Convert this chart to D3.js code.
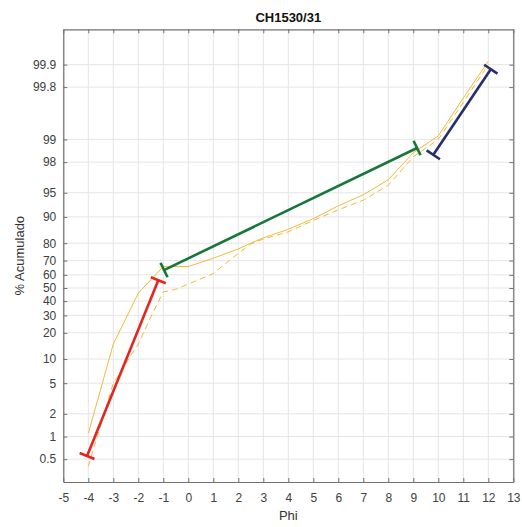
<!DOCTYPE html>
<html>
<head>
<meta charset="utf-8">
<script src="https://cdn.jsdelivr.net/npm/d3@7"></script>
<style>
    body { margin: 0; background: #fff; }
    svg text { font-family: "Liberation Sans", Arial, sans-serif; }
</style>
</head>
<body>
<div id="canvas"></div>
<script>
//Data
var xTicks = [-5, -4, -3, -2, -1, 0, 1, 2, 3, 4, 5, 6, 7, 8, 9, 10, 11, 12, 13];
var yTicks = [0.5, 1, 2, 5, 10, 20, 30, 40, 50, 60, 70, 80, 90, 95, 98, 99, 99.8, 99.9];

var phiSolid = [-4, -3, -2, -1, 0, 1, 2, 2.5, 3, 4, 5, 6, 7, 8, 9, 10, 11, 12];
var pctSolid = [1.1, 15, 46, 66, 66, 71.5, 77, 80, 82.5, 86, 89.5, 92.7, 94.7, 96.6, 98.5, 99.1, 99.72, 99.91];

var phiDashed = [-4, -3, -2, -1.5, -1, -0.5, 0, 1, 2, 2.5, 3, 4, 5, 6, 7, 8, 9, 10, 11, 12];
var pctDashed = [0.4, 5, 15, 29, 47, 49, 53, 61, 74.5, 79.5, 82, 85, 89, 91.8, 93.8, 96, 98.3, 99.0, 99.68, 99.9];

//fitted segments: [phi start, % start, phi end, % end]
var segRed = [-4.05, 0.55, -1.2, 56];
var segGreen = [-0.97, 63.5, 9.15, 98.7];
var segBlue = [9.8, 98.4, 12.1, 99.885];

var width = 522, height = 527;
var mLeft = 63.3, mRight = 513.3, mTop = 29.3, mBottom = 482;

function logit(p) {
    var f = p / 100;
    return Math.log(f / (1 - f));
}

var x = d3.scaleLinear().domain([-5, 13]).range([mLeft, mRight]);
//probability axis: linear in logit
var y = d3.scaleLinear().domain([-6, 8]).range([mBottom, mTop]);

var svg = d3.select("#canvas").append("svg")
    .attr("width", width)
    .attr("height", height);

//grid
var grid = svg.append("g");
grid.selectAll("line.gx")
    .data(xTicks)
    .enter()
    .append("line")
    .attr("x1", function (d) { return x(d); })
    .attr("x2", function (d) { return x(d); })
    .attr("y1", mTop)
    .attr("y2", mBottom)
    .style("stroke", "#e5e5e5");
grid.selectAll("line.gy")
    .data(yTicks)
    .enter()
    .append("line")
    .attr("x1", mLeft)
    .attr("x2", mRight)
    .attr("y1", function (d) { return y(logit(d)); })
    .attr("y2", function (d) { return y(logit(d)); })
    .style("stroke", "#e5e5e5");

//orange curves
var line = d3.line()
    .x(function (d) { return x(d[0]); })
    .y(function (d) { return y(logit(d[1])); });

svg.append("path")
    .datum(d3.zip(phiSolid, pctSolid))
    .attr("d", line)
    .style("fill", "none")
    .style("stroke", "#F2BA3C")
    .style("stroke-width", 1);

svg.append("path")
    .datum(d3.zip(phiDashed, pctDashed))
    .attr("d", line)
    .style("fill", "none")
    .style("stroke", "#F2BA3C")
    .style("stroke-width", 1)
    .style("stroke-dasharray", "6, 4");

//segments with end caps
function drawSegment(s, color) {
    var x1 = x(s[0]), y1 = y(logit(s[1])), x2 = x(s[2]), y2 = y(logit(s[3]));
    var dx = x2 - x1, dy = y2 - y1, len = Math.sqrt(dx * dx + dy * dy);
    var nx = -dy / len * 8, ny = dx / len * 8;
    var g = svg.append("g")
        .style("stroke", color)
        .style("stroke-width", 2.6);
    g.append("line").attr("x1", x1).attr("y1", y1).attr("x2", x2).attr("y2", y2);
    g.append("line").attr("x1", x1 - nx).attr("y1", y1 - ny).attr("x2", x1 + nx).attr("y2", y1 + ny);
    g.append("line").attr("x1", x2 - nx).attr("y1", y2 - ny).attr("x2", x2 + nx).attr("y2", y2 + ny);
}
drawSegment(segRed, "#E3261F");
drawSegment(segGreen, "#17763A");
drawSegment(segBlue, "#262E6B");

//axes
var xAxis = svg.append("g")
    .attr("transform", "translate(0," + mBottom + ")")
    .call(d3.axisBottom(x).tickValues(xTicks).tickSizeInner(-4).tickSizeOuter(0).tickPadding(11)
        .tickFormat(function (d) { return String(d); }));
var xAxisTop = svg.append("g")
    .attr("transform", "translate(0," + mTop + ")")
    .call(d3.axisTop(x).tickValues(xTicks).tickSizeInner(-4).tickSizeOuter(0).tickFormat(""));

var yAxis = svg.append("g")
    .attr("transform", "translate(" + mLeft + ",0)")
    .call(d3.axisLeft(y).tickValues(yTicks.map(logit)).tickSizeInner(-4).tickSizeOuter(0).tickPadding(7)
        .tickFormat(function (d, i) { return yTicks[i]; }));
var yAxisRight = svg.append("g")
    .attr("transform", "translate(" + mRight + ",0)")
    .call(d3.axisRight(y).tickValues(yTicks.map(logit)).tickSizeInner(-4).tickSizeOuter(0).tickFormat(""));

svg.selectAll(".domain").style("stroke", "#707070").style("stroke-width", 1.2);
svg.selectAll(".tick line").style("stroke", "#707070");
svg.selectAll(".tick text")
    .style("font-size", "12px")
    .style("fill", "#404040");

//labels
svg.append("text")
    .text("CH1530/31")
    .attr("x", (mLeft + mRight) / 2)
    .attr("y", 22)
    .attr("text-anchor", "middle")
    .style("font-weight", "bold")
    .style("font-size", "13px")
    .style("fill", "#111");

svg.append("text")
    .text("Phi")
    .attr("x", (mLeft + mRight) / 2)
    .attr("y", 520)
    .attr("text-anchor", "middle")
    .style("font-size", "13px")
    .style("fill", "#333");

svg.append("text")
    .text("% Acumulado")
    .attr("transform", "translate(24," + (mTop + mBottom) / 2 + ") rotate(-90)")
    .attr("text-anchor", "middle")
    .style("font-size", "13px")
    .style("fill", "#333");
</script>
</body>
</html>
